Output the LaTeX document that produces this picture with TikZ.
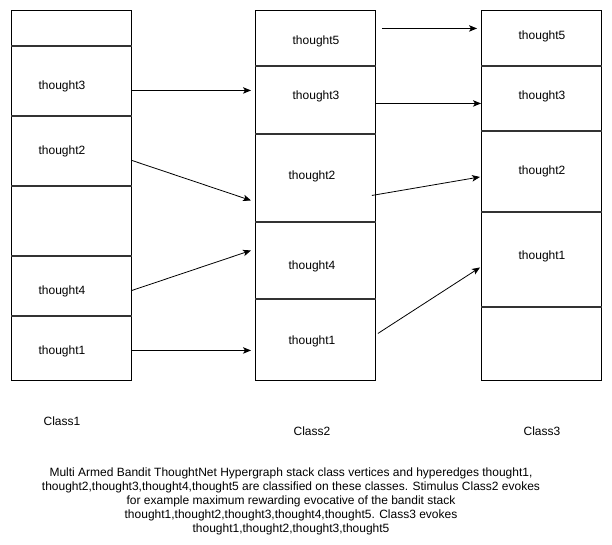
\documentclass[tikz,border=0pt]{standalone}
\usepackage{fontspec}
\setmainfont{Liberation Sans}
\usetikzlibrary{arrows.meta}
\begin{document}
\begin{tikzpicture}[x=1pt,y=-1pt,
  cell/.style={draw, line width=0.9pt, minimum width=120pt, anchor=north west, inner sep=0pt},
  divider/.style={draw=black!80, line width=1.8pt},
  lbl/.style={font=\fontsize{12}{14}\selectfont, inner sep=0pt},
  arr/.style={-{Stealth[length=8pt,width=6.5pt,inset=2pt]}, line width=0.8pt}]
\useasboundingbox (0,0) rectangle (612,545);
% column 1
\node[cell, minimum height=35pt] (c1a) at (11,10) {};
\node[cell, minimum height=70pt] (c1b) at (11,45) {};
\node[cell, minimum height=70pt] (c1c) at (11,115) {};
\node[cell, minimum height=70pt] (c1d) at (11,185) {};
\node[cell, minimum height=60pt] (c1e) at (11,255) {};
\node[cell, minimum height=65pt] (c1f) at (11,315) {};
% column 2
\node[cell, minimum height=55pt] (c2a) at (255,10) {};
\node[cell, minimum height=68pt] (c2b) at (255,65) {};
\node[cell, minimum height=88pt] (c2c) at (255,133) {};
\node[cell, minimum height=77pt] (c2d) at (255,221) {};
\node[cell, minimum height=82pt] (c2e) at (255,298) {};
% column 3
\node[cell, minimum height=55pt] (c3a) at (481,10) {};
\node[cell, minimum height=65pt] (c3b) at (481,65) {};
\node[cell, minimum height=81pt] (c3c) at (481,130) {};
\node[cell, minimum height=95pt] (c3d) at (481,211) {};
\node[cell, minimum height=74pt] (c3e) at (481,306) {};
% dividers
\foreach \n in {c1a,c1b,c1c,c1d,c1e,c2a,c2b,c2c,c2d,c3a,c3b,c3c,c3d}
  \draw[divider] (\n.south west) -- (\n.south east);
% texts
\node[lbl] (t1b) at (62,86) {thought3};
\node[lbl] (t1c) at (62,151) {thought2};
\node[lbl] (t1e) at (62,291) {thought4};
\node[lbl] (t1f) at (62,351) {thought1};
\node[lbl] (t2a) at (316,41) {thought5};
\node[lbl] (t2b) at (316,96) {thought3};
\node[lbl] (t2c) at (312,176) {thought2};
\node[lbl] (t2d) at (312,266) {thought4};
\node[lbl] (t2e) at (312,341) {thought1};
\node[lbl] (t3a) at (542,36) {thought5};
\node[lbl] (t3b) at (542,96) {thought3};
\node[lbl] (t3c) at (542,171) {thought2};
\node[lbl] (t3d) at (542,256) {thought1};
% arrows
\draw[arr] ([yshift=-10pt]c1b.east) -- ([xshift=-4pt,yshift=9pt]c2b.west);
\draw[arr] ([yshift=-10pt]c1c.east) -- ([xshift=-4pt,yshift=-23pt]c2c.west);
\draw[arr] ([yshift=-5pt]c1e.east) -- ([xshift=-4pt,yshift=9.5pt]c2d.west);
\draw[arr] ([yshift=-2.5pt]c1f.east) -- ([xshift=-4pt,yshift=-11pt]c2e.west);
\draw[arr] ([xshift=6pt,yshift=9.5pt]c2a.east) -- ([xshift=-4pt,yshift=9.5pt]c3a.west);
\draw[arr] ([yshift=-4pt]c2b.east) -- ([yshift=-5.5pt]c3b.west);
\draw[arr] ([xshift=-4pt,yshift=-18pt]c2c.east) -- ([xshift=-1pt,yshift=-6pt]c3c.west);
\draw[arr] ([xshift=2pt,yshift=6pt]c2e.east) -- ([xshift=-1pt,yshift=-8.5pt]c3d.west);
% class labels
\node[lbl] (k1) at (62,421) {Class1};
\node[lbl] (k2) at (312,431) {Class2};
\node[lbl] (k3) at (542,431) {Class3};
% caption
\node[lbl, align=center] (cap) at (291,501) {Multi Armed Bandit ThoughtNet Hypergraph stack class vertices and hyperedges thought1,\\
thought2,thought3,thought4,thought5 are classified on these classes. Stimulus Class2 evokes\\
for example maximum rewarding evocative of the bandit stack\\
thought1,thought2,thought3,thought4,thought5. Class3 evokes\\
thought1,thought2,thought3,thought5};
\end{tikzpicture}
\end{document}
